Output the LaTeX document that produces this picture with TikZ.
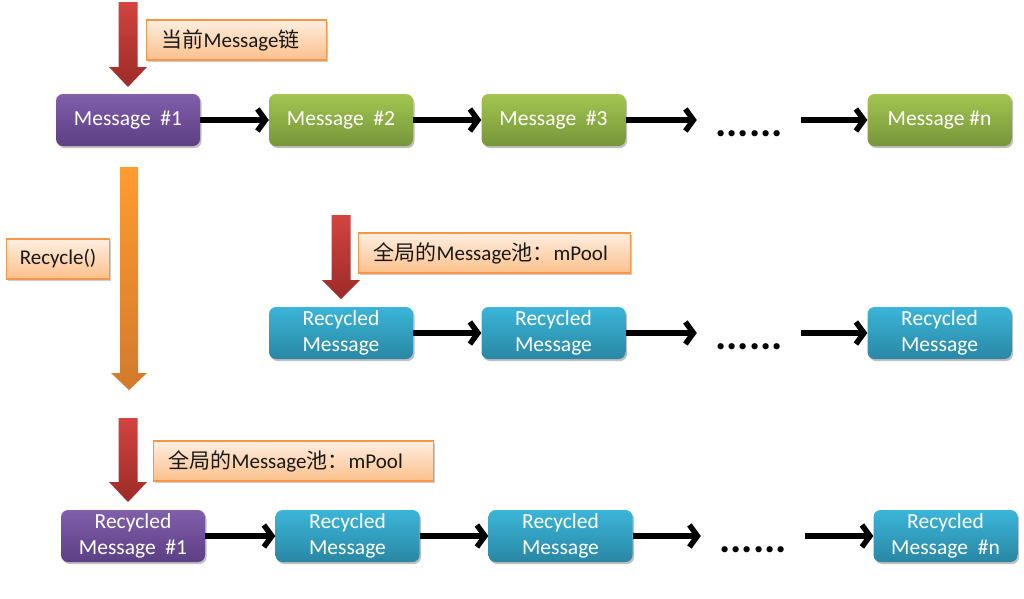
\documentclass[tikz,border=0pt]{standalone}
\usepackage{fontspec}
\setmainfont{Carlito}
\newfontfamily\cjk{Noto Sans CJK SC}
\usetikzlibrary{arrows.meta,shadows}
\definecolor{purT}{HTML}{805FAB}
\definecolor{purB}{HTML}{5C3F84}
\definecolor{grnT}{HTML}{A3C550}
\definecolor{grnB}{HTML}{76953A}
\definecolor{bluT}{HTML}{3BB5D8}
\definecolor{bluB}{HTML}{2987A4}
\definecolor{redT}{HTML}{D2443F}
\definecolor{redB}{HTML}{9C2B28}
\definecolor{orgT}{HTML}{FF9C30}
\definecolor{orgB}{HTML}{D27A2C}
\definecolor{pchT}{HTML}{FEEEE0}
\definecolor{pchB}{HTML}{FBC08C}
\definecolor{pchD}{HTML}{F79646}
\begin{document}
\begin{tikzpicture}[x=1pt,y=-1pt,
  msg/.style={rounded corners=7pt, minimum width=144pt, minimum height=52pt,
    inner sep=2pt, text=white, font=\fontsize{21.5}{26}\selectfont, align=center,
    drop shadow={shadow xshift=1.5pt, shadow yshift=-2pt, opacity=0.25, fill=black}},
  purplebox/.style={msg, top color=purT, bottom color=purB},
  greenbox/.style={msg, top color=grnT, bottom color=grnB},
  bluebox/.style={msg, top color=bluT, bottom color=bluB},
  dotsbox/.style={font=\fontsize{42}{42}\selectfont\bfseries, inner sep=0pt,
    text height=33pt, text depth=0pt, minimum width=104pt},
  conn/.style={line width=5.5pt, -{Straight Barb[length=8pt,width=22pt]}},
  lbl/.style={draw=pchD, line width=1.2pt, top color=pchT, bottom color=pchB,
    font=\fontsize{21}{24}\selectfont, text=black!90, minimum height=40pt,
    inner xsep=15pt, anchor=west, align=left,
    drop shadow={shadow xshift=1.5pt, shadow yshift=-1.5pt, opacity=0.2, fill=black}},
  redarrow/.style={top color=redT, bottom color=redB},
  orgarrow/.style={top color=orgT, bottom color=orgB}
]
\useasboundingbox (0,0) rectangle (1024,598);
\fill[white] (0,0) rectangle (1024,598);

% ---- block arrows
\shade[redarrow] (118.5,2) -- (137.5,2) -- (137.5,67) -- (147,67) -- (128,87) -- (109,67) -- (118.5,67) -- cycle;
\shade[redarrow] (331.5,215) -- (350.5,215) -- (350.5,280) -- (360,280) -- (341,299) -- (322,280) -- (331.5,280) -- cycle;
\shade[redarrow] (118.5,418) -- (137.5,418) -- (137.5,482) -- (147,482) -- (128,502) -- (109,482) -- (118.5,482) -- cycle;
\shade[orgarrow] (120,167) -- (138,167) -- (138,373) -- (147,373) -- (129,390) -- (111,373) -- (120,373) -- cycle;

% ---- labels
\node[lbl, text width=150pt] (l1) at (146,40) {{\cjk 当前}Message{\cjk 链}};
\node[lbl, text width=242pt] (l2) at (358,253) {{\cjk 全局的}Message{\cjk 池：}mPool};
\node[lbl, text width=250pt] (l3) at (153,461) {{\cjk 全局的}Message{\cjk 池：}mPool};
\node[lbl, text width=77pt, inner xsep=13pt, align=center] (rc) at (6,259) {Recycle()};

% ---- row 1
\node[purplebox] (m1) at (128,120) {Message\ \ \#1};
\node[greenbox] (m2) at (341,120) {Message\ \ \#2};
\node[greenbox] (m3) at (553.5,120) {Message\ \ \#3};
\node[dotsbox] (d1) at (749,120) {......};
\node[greenbox] (mn) at (939.5,120) {Message \#n};
\draw[conn] (m1) -- (m2);
\draw[conn] (m2) -- (m3);
\draw[conn] (m3) -- (d1);
\draw[conn] (d1) -- (mn);

% ---- row 2
\node[bluebox] (p1) at (341,333) {Recycled\\Message};
\node[bluebox] (p2) at (553.5,333) {Recycled\\Message};
\node[dotsbox] (d2) at (749,333) {......};
\node[bluebox] (pn) at (939.5,333) {Recycled\\Message};
\draw[conn] (p1) -- (p2);
\draw[conn] (p2) -- (d2);
\draw[conn] (d2) -- (pn);

% ---- row 3
\node[purplebox] (q1) at (133,536) {Recycled\\Message\ \ \#1};
\node[bluebox] (q2) at (347.5,536) {Recycled\\Message};
\node[bluebox] (q3) at (560.5,536) {Recycled\\Message};
\node[dotsbox] (d3) at (753,536) {......};
\node[bluebox] (qn) at (945.5,536) {Recycled\\Message\ \ \#n};
\draw[conn] (q1) -- (q2);
\draw[conn] (q2) -- (q3);
\draw[conn] (q3) -- (d3);
\draw[conn] (d3) -- (qn);
\end{tikzpicture}
\end{document}
